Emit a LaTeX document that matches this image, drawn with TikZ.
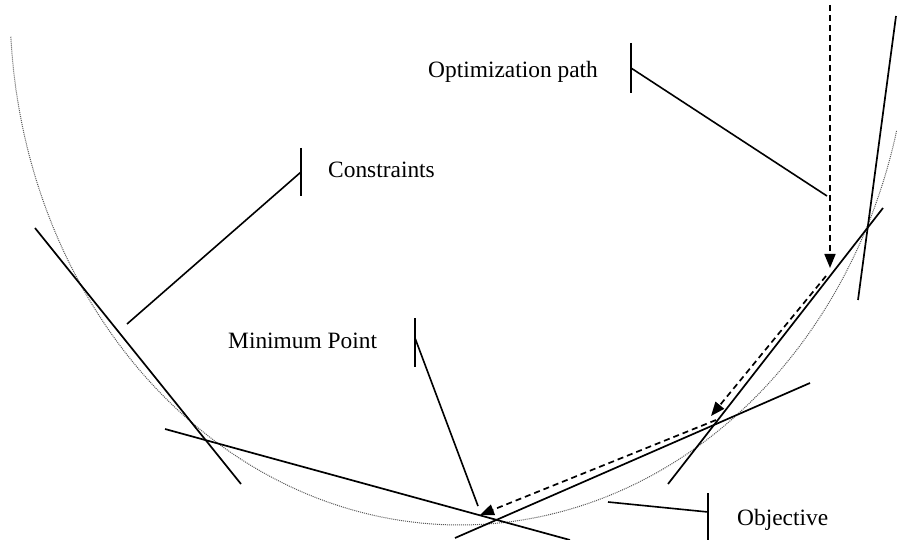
\documentclass[tikz,border=0pt]{standalone}
\usepackage{fontspec}
\setmainfont{Liberation Serif}
\usetikzlibrary{arrows.meta}
\begin{document}
\begin{tikzpicture}[x=1pt,y=-1pt,
  lbl/.style={anchor=base west, inner sep=0pt, font=\fontsize{23.4}{28}\selectfont},
  cons/.style={line width=1.7pt, black},
  lead/.style={line width=1.6pt, black},
  optarrow/.style={line width=1.7pt, dash pattern=on 6pt off 4pt,
    -{Triangle[length=14pt,width=11pt]}},
  bound/.style={black!65, line width=1pt, dash pattern=on 1pt off 1pt}]
\useasboundingbox (0,0) rectangle (897,540);

% objective contour (dotted)
\draw[bound] plot[domain=176.5:13.9, samples=160, smooth]
  ({460+450*cos(\x)},{5+520*sin(\x)});

% constraint lines
\coordinate (c1a) at (35,228);  \coordinate (c1b) at (241,484);
\coordinate (c2a) at (165,429); \coordinate (c2b) at (570,540);
\coordinate (c3a) at (455,538); \coordinate (c3b) at (810,383);
\coordinate (c4a) at (668,484); \coordinate (c4b) at (883,208);
\coordinate (c5a) at (896,16);  \coordinate (c5b) at (858,300);
\draw[cons] (c1a) -- (c1b);
\draw[cons] (c2a) -- (c2b);
\draw[cons] (c3a) -- (c3b);
\draw[cons] (c4a) -- (c4b);
\draw[cons] (c5a) -- (c5b);

% optimization path
\coordinate (p0) at (830,5);
\coordinate (p1) at (830,268);
\coordinate (p1s) at (826,276);
\coordinate (p2) at (711,416);
\coordinate (p2s) at (716,420);
\coordinate (p3) at (480,515);
\draw[optarrow] (p0) -- (p1);
\draw[optarrow] (p1s) -- (p2);
\draw[optarrow] (p2s) -- (p3);

% callout: optimization path
\node[lbl] (optlbl) at (428,78) {Optimization path};
\coordinate (optbarT) at (631,43); \coordinate (optbarB) at (631,93);
\coordinate (optbarM) at (631,68); \coordinate (optend) at (827,196);
\draw[lead] (optbarT) -- (optbarB);
\draw[lead] (optbarM) -- (optend);

% callout: constraints
\node[lbl] (conlbl) at (328,178) {Constraints};
\coordinate (conbarT) at (301,148); \coordinate (conbarB) at (301,196);
\coordinate (conbarM) at (301,172); \coordinate (conend) at (127,324);
\draw[lead] (conbarT) -- (conbarB);
\draw[lead] (conbarM) -- (conend);

% callout: minimum point
\node[lbl] (minlbl) at (228,348) {Minimum Point};
\coordinate (minbarT) at (415,318); \coordinate (minbarB) at (415,367);
\coordinate (minbarM) at (415,338); \coordinate (minend) at (478,506);
\draw[lead] (minbarT) -- (minbarB);
\draw[lead] (minbarM) -- (minend);

% callout: objective
\node[lbl] (objlbl) at (737,525) {Objective};
\coordinate (objbarT) at (708,493); \coordinate (objbarB) at (708,540);
\coordinate (objbarM) at (708,512); \coordinate (objend) at (608,502);
\draw[lead] (objbarT) -- (objbarB);
\draw[lead] (objbarM) -- (objend);
\end{tikzpicture}
\end{document}
